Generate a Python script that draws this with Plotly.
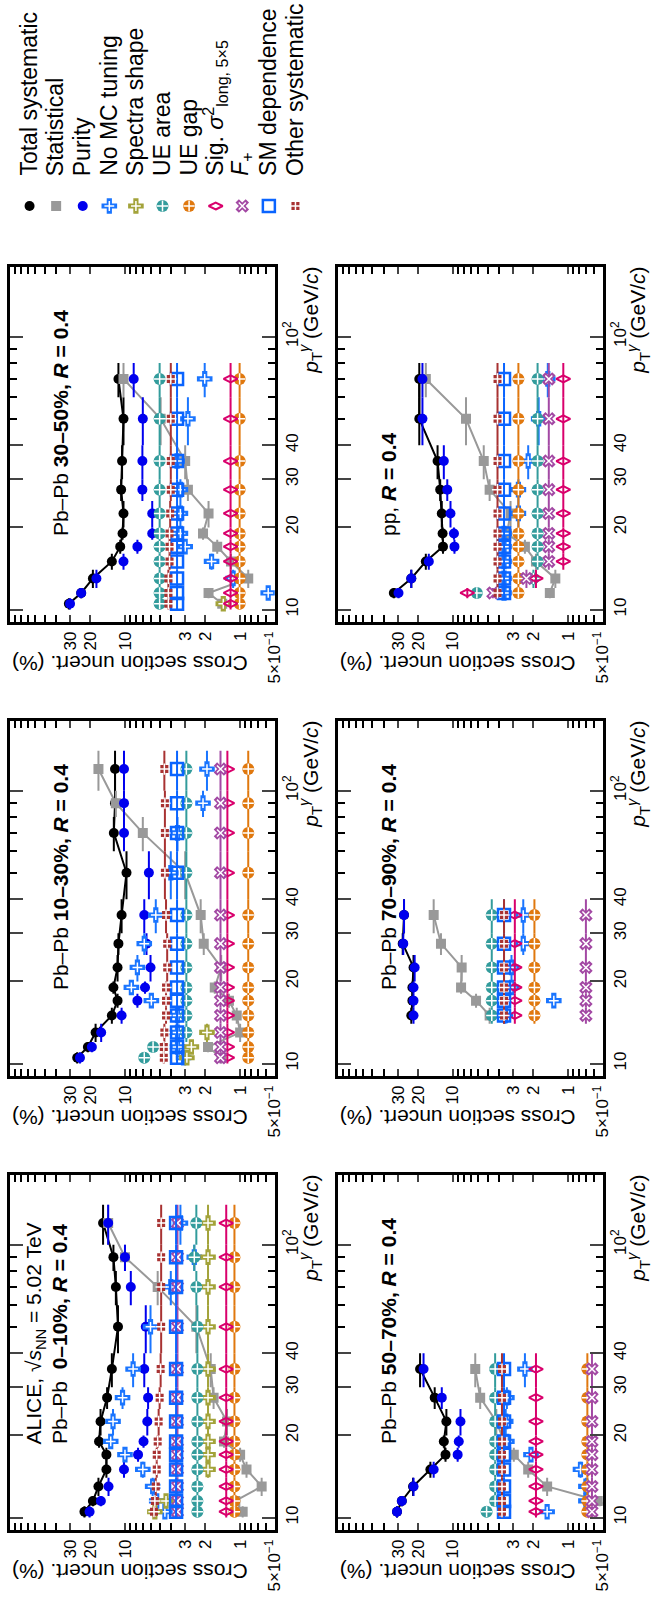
import numpy as np
import plotly.graph_objects as go

# ---------------------------------------------------------------- data
# photon pT bins (GeV/c): centres and edges
BIN_CENTERS = [10.5, 11.5, 13, 15, 17, 19, 22.5, 27.5, 35, 50, 70, 90, 120]
BIN_LOW = [10, 11, 12, 14, 16, 18, 20, 25, 30, 40, 60, 80, 100]
BIN_HIGH = [11, 12, 14, 16, 18, 20, 25, 30, 40, 60, 80, 100, 140]

# Pb-Pb 0-10%
PT_0010 = [10.5, 11.5, 13, 15, 17, 19, 22.5, 27.5, 35, 50, 70, 90, 120]
TOTAL_0010 = [22.5, 19.0, 17.0, 14.5, 14.5, 16.8, 16.3, 14.3, 13.0, 11.5, 12.0, 12.6, 15.5]
STAT_0010 = [0.95, 1.1, 0.65, 0.88, 1.0, 1.38, 1.3, 1.7, 1.8, 2.4, 5.2, 10.0, 14.0]
PURITY_0010 = [20.3, 16.2, 13.9, 10.2, 7.7, 6.9, 6.4, 6.3, 6.8, 6.6, 8.9, 10.0, 14.0]
NOMC_0010 = [4.5, 5.3, 5.75, 7.0, 10.0, 13.3, 12.7, 10.5, 8.5, 6.0, 4.0, 2.5, 3.3]
SPECTRA_0010 = [5.5, 4.4, None, 1.9, 1.9, 1.9, 1.9, 1.9, 1.9, 1.9, 1.9, 1.9, 1.9]
UEAREA_0010 = [2.35, 2.35, 2.35, 2.35, 2.35, 2.35, 2.35, 2.35, 2.35, 2.35, 2.4, 2.5, 2.4]
UEGAP_0010 = [1.12] * 13
SIG_0010 = [1.32] * 13
FPLUS_0010 = [3.5] * 13
SM_0010 = [3.6] * 13
OTHER_0010 = [5.6, 5.5, 5.4, 5.3, 5.3, 5.2, 5.1, 5.0, 4.9, 4.85, 4.85, 4.85, 4.85]

# Pb-Pb 10-30%
PT_1030 = [10.5, 11.5, 13, 15, 17, 19, 22.5, 27.5, 35, 50, 70, 90, 120]
TOTAL_1030 = [26.0, 21.0, 18.0, 13.0, 11.6, 12.6, 11.6, 11.4, 10.7, 9.7, 12.5, 12.2, 12.2]
STAT_1030 = [1.45, 1.9, 1.0, 1.07, 1.25, 1.66, 1.46, 2.07, 2.2, 3.0, 7.0, 12.0, 17.0]
PURITY_1030 = [24.6, 19.4, 16.1, 10.7, 7.8, 6.7, 6.0, 6.5, 6.8, 6.2, 10.2, 10.2, 10.2]
NOMC_1030 = [3.1, 3.5, 3.5, 3.5, 5.9, 8.8, 7.8, 6.8, 5.4, 4.0, 3.5, 2.1, 1.94]
SPECTRA_1030 = [2.9, 2.65, 1.94] + [None] * 10
UEAREA_1030 = [6.8, 5.7] + [2.93] * 11
UEGAP_1030 = [0.85] * 13
SIG_1030 = [1.29] * 13
FPLUS_1030 = [1.48] * 13
SM_1030 = [3.53] * 13
OTHER_1030 = [4.6, 4.6, 4.55, 4.4, 4.4, 4.4, 4.3, 4.3, 4.4, 4.5, 4.5, 4.5, 4.55]

# Pb-Pb 30-50%
PT_3050 = [10.5, 11.5, 13, 15, 17, 19, 22.5, 27.5, 35, 50, 70]
TOTAL_3050 = [30.7, 24.0, 19.0, 13.0, 11.0, 10.5, 10.3, 10.8, 10.6, 10.3, 11.4]
STAT_3050 = [1.43, 1.88, 0.85, 1.2, 1.58, 2.1, 1.88, 2.84, 3.0, 4.9, 10.3]
PURITY_3050 = [30.0, 24.0, 17.7, 10.3, 7.8, 5.8, 5.8, 7.06, 7.06, 7.0, 8.4]
NOMC_3050 = [None, 0.57, 1.15, 1.77, 3.0, 3.3, 3.3, 3.3, 3.53, 2.84, 2.03]
SPECTRA_3050 = [1.4] + [None] * 10
UEAREA_3050 = [5.0] * 11
UEGAP_3050 = [1.01] * 11
SIG_3050 = [1.21] * 11
FPLUS_3050 = [None] * 11
SM_3050 = [3.53] * 11
OTHER_3050 = [4.2, 4.2, 4.2, 4.1, 4.1, 4.1, 4.05, 4.0, 4.0, 4.0, 4.0]

# Pb-Pb 50-70%
PT_5070 = [10.5, 11.5, 13, 15, 17, 19, 22.5, 27.5, 35]
TOTAL_5070 = [30.6, 27.8, 22.2, 15.7, 11.6, 12.0, 11.4, 14.4, 19.3]
STAT_5070 = [0.42, 0.53, 1.52, 2.22, 2.96, 3.6, 4.2, 5.8, 6.4]
PURITY_5070 = [30.6, 27.8, 22.0, 14.7, 9.1, 8.9, 8.6, 12.5, 18.0]
NOMC_5070 = [1.52, 0.7, 0.7, 0.78, 2.1, 3.4, 3.48, 3.4, 2.37]
SPECTRA_5070 = [None] * 9
UEAREA_5070 = [5.1, 4.3, 4.3, 4.3, 4.3, 4.3, 4.3, 4.3, 4.3]
UEGAP_5070 = [0.68] * 9
SIG_5070 = [1.9] * 9
FPLUS_5070 = [0.62] * 9
SM_5070 = [3.6] * 9
OTHER_5070 = [3.75] * 9

# Pb-Pb 70-90%
PT_7090 = [15, 17, 19, 22.5, 27.5, 35]
TOTAL_7090 = [23.0, 22.5, 22.5, 22.0, 27.3, 26.6]
STAT_7090 = [4.8, 6.3, 8.5, 8.4, 12.7, 14.7]
PURITY_7090 = [22.0, 22.0, 22.0, 21.5, 27.0, 26.6]
NOMC_7090 = [3.5, 1.33, 3.1, 3.1, 2.45, 2.45]
SPECTRA_7090 = [None] * 6
UEAREA_7090 = [4.6] * 6
UEGAP_7090 = [1.96] * 6
SIG_7090 = [2.9] * 6
FPLUS_7090 = [0.7] * 6
SM_7090 = [3.6] * 6
OTHER_7090 = [3.6] * 6

# pp
PT_PP = [11.5, 13, 15, 17, 19, 22.5, 27.5, 35, 50, 70]
TOTAL_PP = [32.6, 23.0, 17.2, 12.2, 12.3, 12.5, 12.9, 13.6, 19.6, 19.6]
STAT_PP = [1.44, 1.29, 1.9, 2.37, 3.4, 3.16, 4.8, 5.4, 7.7, 17.2]
PURITY_PP = [29.7, 23.0, 16.2, 9.7, 9.8, 10.5, 11.2, 12.0, 18.4, 18.4]
NOMC_PP = [3.6, 3.6, 3.6, 3.6, 3.6, 2.7, 2.7, 2.22, 1.8, 1.5]
SPECTRA_PP = [None] * 10
UEAREA_PP = [6.2, 2.0, 1.84, 1.84, 1.84, 1.84, 1.84, 1.84, 1.84, 1.84]
UEGAP_PP = [2.7] * 10
SIG_PP = [7.5, 1.9, 1.1, 1.1, 1.1, 1.1, 1.1, 1.1, 1.1, 1.1]
FPLUS_PP = [4.5, 2.3, 1.47, 1.47, 1.47, 1.47, 1.47, 1.47, 1.47, 1.47]
SM_PP = [3.6] * 10
OTHER_PP = [4.1] * 10

SERIES_KEYS = ["total", "stat", "purity", "nomc", "spectra", "uearea",
               "uegap", "sig", "fplus", "sm", "other"]
LEGEND_TEXT = ["Total systematic", "Statistical", "Purity", "No MC tuning",
               "Spectra shape", "UE area", "UE gap",
               "Sig. <i>σ</i><sup>2</sup><sub>long, 5×5</sub>",
               "<i>F</i><sub>+</sub>", "SM dependence", "Other systematic"]

UNC_TICKS = [0.5, 1, 2, 3, 10, 20, 30]
UNC_TICKTEXT = ["5×10<sup>−1</sup>", "1", "2", "3", "10", "20", "30"]
UNC_MINOR = [0.6, 0.7, 0.8, 0.9, 4, 5, 6, 7, 8, 9, 40, 50, 60, 70, 80, 90]
PT_TICKS = [10, 20, 30, 40, 100]
PT_TICKTEXT = ["10", "20", "30", "40", "10<sup>2</sup>"]
PT_MINOR = [9, 50, 60, 70, 80, 90]

# ---------------------------------------------------------------- styling
FONT = "Liberation Sans, Arial, Helvetica, sans-serif"
W, H = 660, 1598
COL_X = [10, 343]
ROW_Y = [267, 721, 1175]
PW, PH = 269, 355

# only the total and statistical curves are joined by lines;
# every other source is drawn as points with bin-width bars
STYLE = {
    "total":   dict(color="#000000", symbol="circle", size=10, joined=True),
    "stat":    dict(color="#999999", symbol="square", size=10, joined=True),
    "purity":  dict(color="#0000ee", symbol="circle", size=10),
    "nomc":    dict(color="#1a75ff", symbol="cross", size=13, inner=("cross-thin", 7)),
    "spectra": dict(color="#a3a33a", symbol="cross", size=13, inner=("cross-thin", 7)),
    "uearea":  dict(color="#339c9c", symbol="circle", size=12, inner=("cross-thin", 8)),
    "uegap":   dict(color="#e0780e", symbol="circle", size=12, inner=("cross-thin", 8)),
    "sig":     dict(color="#d9006c", symbol="diamond-wide-open", size=10, lw=2),
    "fplus":   dict(color="#a349a4", symbol="x", size=12, inner=("x-thin", 7)),
    "sm":      dict(color="#0a64ff", symbol="square-open", size=12, lw=2.5),
    "other":   dict(color="#a83232", symbol="square", size=8, inner=("cross-thin", 8)),
}

PANELS = [
    dict(row=0, col=0, pt=PT_3050, tag="3050",
         text=["Pb–Pb <b>30–50%, <i>R</i> = 0.4</b>"]),
    dict(row=0, col=1, pt=PT_PP, tag="PP",
         text=["pp, <b><i>R</i> = 0.4</b>"]),
    dict(row=1, col=0, pt=PT_1030, tag="1030",
         text=["Pb–Pb <b>10–30%, <i>R</i> = 0.4</b>"]),
    dict(row=1, col=1, pt=PT_7090, tag="7090",
         text=["Pb–Pb <b>70–90%, <i>R</i> = 0.4</b>"]),
    dict(row=2, col=0, pt=PT_0010, tag="0010",
         text=["ALICE, √<i>s</i><sub>NN</sub> = 5.02 TeV",
               "Pb–Pb  <b>0–10%, <i>R</i> = 0.4</b>"]),
    dict(row=2, col=1, pt=PT_5070, tag="5070",
         text=["Pb–Pb <b>50–70%, <i>R</i> = 0.4</b>"]),
]

g = globals()


def px(x, y):
    return x / W, 1 - y / H


def marker_spec(st):
    lw = st.get("lw", 0)
    return dict(symbol=st["symbol"], size=st["size"], color=st["color"],
                line=dict(color=st["color"], width=lw))


def add_series(fig, ax, pt, vals, st):
    lo = [c - BIN_LOW[BIN_CENTERS.index(c)] for c in pt]
    hi = [BIN_HIGH[BIN_CENTERS.index(c)] - c for c in pt]
    fig.add_trace(go.Scatter(
        x=vals, y=pt, mode="lines+markers" if st.get("joined") else "markers",
        xaxis=f"x{ax}", yaxis=f"y{ax}",
        line=dict(color=st["color"], width=2),
        marker=marker_spec(st),
        error_y=dict(type="data", symmetric=False, array=hi, arrayminus=lo,
                     color=st["color"], thickness=2, width=0),
        showlegend=False, hoverinfo="skip"))
    if "inner" in st:
        sym, sz = st["inner"]
        fig.add_trace(go.Scatter(
            x=vals, y=pt, mode="markers", xaxis=f"x{ax}", yaxis=f"y{ax}",
            marker=dict(symbol=sym, size=sz, color="white",
                        line=dict(color="white", width=1.5)),
            showlegend=False, hoverinfo="skip"))


fig = go.Figure()
layout = dict(width=W, height=H, margin=dict(l=0, r=0, t=0, b=0),
              paper_bgcolor="white", plot_bgcolor="rgba(0,0,0,0)",
              font=dict(family=FONT, color="black", size=17),
              showlegend=False)
annotations = []

for i, p in enumerate(PANELS, start=1):
    x0, y0 = COL_X[p["col"]], ROW_Y[p["row"]]
    layout[f"xaxis{i}"] = dict(
        domain=[x0 / W, (x0 + PW) / W], anchor=f"y{i}", type="log",
        range=[np.log10(100), np.log10(0.5)],
        tickmode="array", tickvals=UNC_TICKS, ticktext=UNC_TICKTEXT,
        tickangle=-90, ticks="inside", ticklen=7, tickwidth=1.5,
        minor=dict(tickmode="array", tickvals=UNC_MINOR,
                   ticks="inside", ticklen=7, tickwidth=1.5, tickcolor="black"),
        showline=True, linewidth=2.5, linecolor="black", mirror="allticks",
        showgrid=False, zeroline=False, tickfont=dict(size=17))
    layout[f"yaxis{i}"] = dict(
        domain=[1 - (y0 + PH) / H, 1 - y0 / H], anchor=f"x{i}", type="log",
        side="right", range=[np.log10(9), np.log10(180)],
        tickmode="array", tickvals=PT_TICKS, ticktext=PT_TICKTEXT,
        tickangle=-90, ticks="inside", ticklen=13, tickwidth=1.5,
        minor=dict(tickmode="array", tickvals=PT_MINOR,
                   ticks="inside", ticklen=7, tickwidth=1.5, tickcolor="black"),
        showline=True, linewidth=2.5, linecolor="black", mirror="allticks",
        showgrid=False, zeroline=False, tickfont=dict(size=17))

    for key in SERIES_KEYS:
        vals = g[f"{key.upper()}_{p['tag']}"]
        if all(v is None for v in vals):
            continue
        add_series(fig, i, p["pt"], vals, STYLE[key])

    # panel label(s), reading upward
    offs = [51] if len(p["text"]) == 1 else [26, 50]
    for txt, dx in zip(p["text"], offs):
        ax_, ay_ = px(x0 + dx, y0 + PH - 84)
        annotations.append(dict(text=txt, x=ax_, y=ay_, xref="paper", yref="paper",
                                xanchor="center", yanchor="bottom", textangle=-90,
                                showarrow=False, font=dict(size=21)))
    # axis titles
    ax_, ay_ = px(x0, y0 + PH + 42)
    annotations.append(dict(text="Cross section uncert. (%)", x=ax_, y=ay_,
                            xref="paper", yref="paper", xanchor="left",
                            yanchor="middle", textangle=180, showarrow=False,
                            font=dict(size=21)))
    ax_, ay_ = px(x0 + PW + 36, y0 - 2)
    annotations.append(dict(text="<i>p</i><sub>T</sub><sup><i>γ</i></sup> (GeV/<i>c</i>)",
                            x=ax_, y=ay_, xref="paper", yref="paper",
                            xanchor="center", yanchor="top", textangle=-90,
                            showarrow=False, font=dict(size=21)))

# legend: vertical labels with their marker below, laid out in a row
LEG_X0, LEG_DX, LEG_MARK_Y, LEG_TEXT_Y = 30, 27, 206, 178
layout["xaxis7"] = dict(domain=[0, 1], range=[0, W], visible=False, anchor="y7")
layout["yaxis7"] = dict(domain=[0, 1], range=[H, 0], visible=False, anchor="x7")
for k, (key, txt) in enumerate(zip(SERIES_KEYS, LEGEND_TEXT)):
    lx = LEG_X0 + LEG_DX * k
    st = STYLE[key]
    fig.add_trace(go.Scatter(x=[lx], y=[LEG_MARK_Y], mode="markers",
                             xaxis="x7", yaxis="y7", marker=marker_spec(st),
                             showlegend=False, hoverinfo="skip"))
    if "inner" in st:
        sym, sz = st["inner"]
        fig.add_trace(go.Scatter(x=[lx], y=[LEG_MARK_Y], mode="markers",
                                 xaxis="x7", yaxis="y7",
                                 marker=dict(symbol=sym, size=sz, color="white",
                                             line=dict(color="white", width=1.5)),
                                 showlegend=False, hoverinfo="skip"))
    ax_, ay_ = px(lx - 1, LEG_TEXT_Y)
    annotations.append(dict(text=txt, x=ax_, y=ay_, xref="paper", yref="paper",
                            xanchor="center", yanchor="bottom", textangle=-90,
                            showarrow=False, font=dict(size=23)))

layout["annotations"] = annotations
fig.update_layout(**layout)
fig.write_html("out.html")
